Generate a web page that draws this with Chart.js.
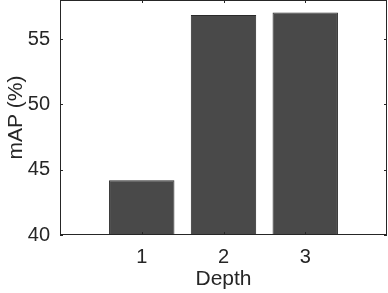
<!DOCTYPE html>
<html>
<head>
<meta charset="utf-8">
<script src="https://cdn.jsdelivr.net/npm/chart.js@4/dist/chart.umd.min.js"></script>
<style>
  html, body { margin: 0; padding: 0; background: #fff; }
  #wrap { width: 388px; height: 293px; }
</style>
</head>
<body>
<div id="wrap"><canvas id="chart"></canvas></div>
<script>
// depth vs mAP
const depths = [1, 2, 3];
const mapValues = [44.2, 56.85, 57.05];
const xTicks = [1, 2, 3];
const yTicks = [40, 45, 50, 55];

const axisColor = "#262626";
const fontFamily = "Liberation Sans, Arial, sans-serif";

// matlab-style box with inward ticks
const boxTicks = {
  id: "boxTicks",
  afterDraw(chart) {
    const { ctx, chartArea: a, scales } = chart;
    ctx.save();
    ctx.strokeStyle = axisColor;
    ctx.lineWidth = 1;
    ctx.strokeRect(a.left + 0.5, a.top + 0.5, a.right - a.left - 1, a.bottom - a.top - 1);
    const len = 3;
    ctx.beginPath();
    xTicks.forEach((v) => {
      const x = Math.round(scales.x.getPixelForValue(v)) + 0.5;
      ctx.moveTo(x, a.bottom); ctx.lineTo(x, a.bottom - len);
      ctx.moveTo(x, a.top); ctx.lineTo(x, a.top + len);
    });
    yTicks.forEach((v) => {
      const y = Math.round(scales.y.getPixelForValue(v)) + 0.5;
      ctx.moveTo(a.left, y); ctx.lineTo(a.left + len, y);
      ctx.moveTo(a.right, y); ctx.lineTo(a.right - len, y);
    });
    ctx.stroke();
    ctx.restore();
  },
};

function noPad(s) {
  s.paddingTop = 0;
  s.paddingBottom = 0;
  s.paddingLeft = 0;
  s.paddingRight = 0;
}

const ctx = document.getElementById("chart").getContext("2d");
new Chart(ctx, {
  type: "bar",
  data: {
    datasets: [
      {
        label: "mAP",
        data: depths.map((d, i) => ({ x: d, y: mapValues[i] })),
        backgroundColor: "#494949",
        borderColor: "#2a2a2a",
        borderWidth: 1,
        barPercentage: 0.8,
        categoryPercentage: 1,
      },
    ],
  },
  options: {
    responsive: true,
    maintainAspectRatio: false,
    animation: false,
    layout: { padding: { top: 0, right: 1, left: 0, bottom: 0 } },
    plugins: {
      legend: { display: false },
      tooltip: { enabled: false },
    },
    scales: {
      x: {
        type: "linear",
        min: 0,
        max: 4,
        offset: false,
        grid: { display: false, drawTicks: false },
        border: { display: false },
        afterBuildTicks: (s) => { s.ticks = xTicks.map((v) => ({ value: v })); },
        afterFit: (s) => { s.height = 58; noPad(s); },
        ticks: {
          color: axisColor,
          font: { family: fontFamily, size: 20 },
          padding: 10,
        },
        title: {
          display: true,
          text: "Depth",
          color: axisColor,
          font: { family: fontFamily, size: 21 },
          padding: { top: 0, bottom: 1 },
        },
      },
      y: {
        min: 40,
        max: 58,
        grid: { display: false, drawTicks: false },
        border: { display: false },
        afterBuildTicks: (s) => { s.ticks = yTicks.map((v) => ({ value: v })); },
        afterFit: (s) => { s.width = 60; noPad(s); },
        ticks: {
          color: axisColor,
          font: { family: fontFamily, size: 20 },
          padding: 10,
        },
        title: {
          display: true,
          text: "mAP (%)",
          color: axisColor,
          font: { family: fontFamily, size: 21 },
          padding: { top: 4, bottom: 0 },
        },
      },
    },
  },
  plugins: [boxTicks],
});
</script>
</body>
</html>
